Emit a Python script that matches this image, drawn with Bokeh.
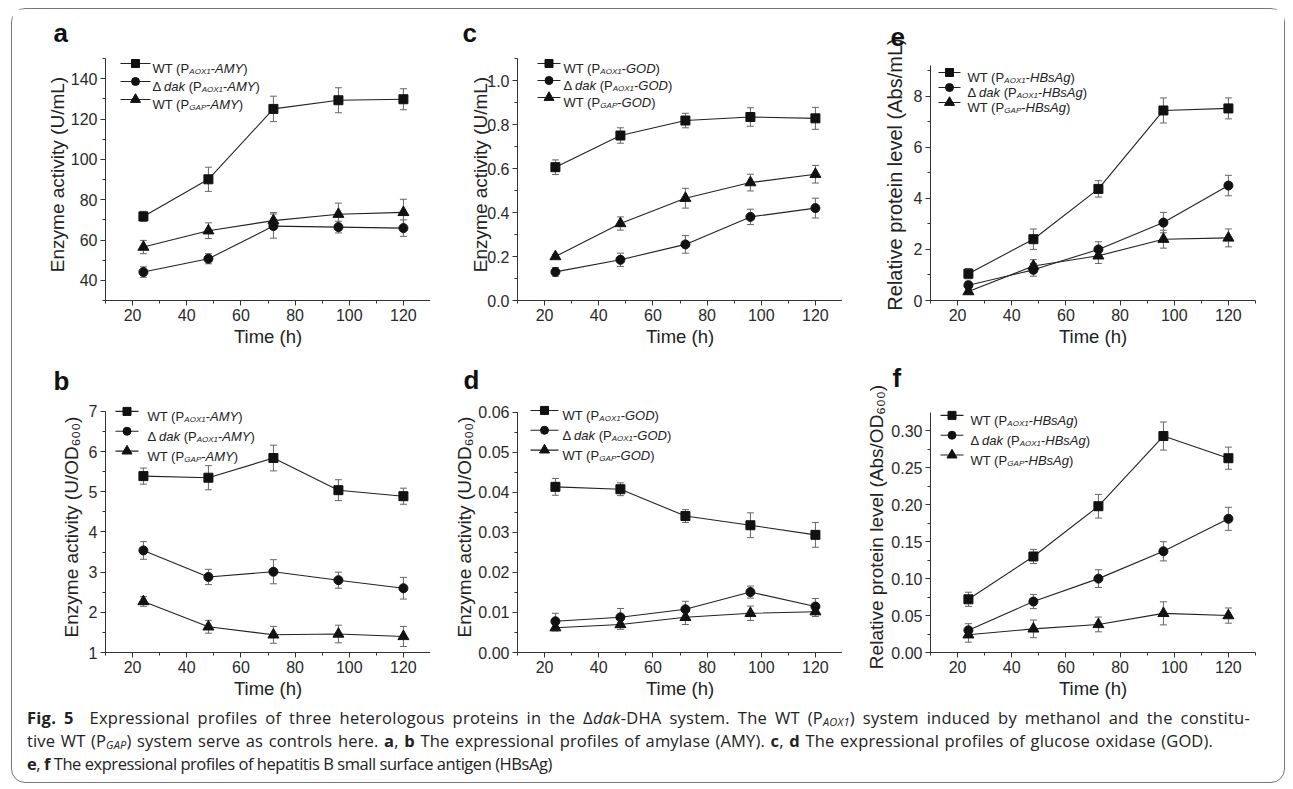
from bokeh.plotting import figure
from bokeh.models import (Range1d, SingleIntervalTicker, PrintfTickFormatter, Whisker, TeeHead,
                          ColumnDataSource, Label, Div, Spacer)
from bokeh.layouts import column, row
from bokeh.embed import file_html
from bokeh.resources import INLINE

FONT = "Liberation Sans"

time_h = [24, 48, 72, 96, 120]

# (a) amylase, U/mL
amy_ml_wt_aox1 = [71.7, 90.1, 125.0, 129.3, 129.8]
amy_ml_wt_aox1_err = [2.5, 6.0, 6.3, 6.2, 5.2]
amy_ml_dak_aox1 = [44.1, 50.7, 66.9, 66.4, 65.9]
amy_ml_dak_aox1_err = [2.6, 2.5, 6.0, 2.9, 4.1]
amy_ml_wt_gap = [56.5, 64.6, 69.6, 72.8, 73.7]
amy_ml_wt_gap_err = [3.3, 3.9, 4.0, 5.5, 6.5]

# (b) amylase, U/OD600
amy_od_wt_aox1 = [5.39, 5.35, 5.84, 5.04, 4.89]
amy_od_wt_aox1_err = [0.20, 0.30, 0.32, 0.26, 0.20]
amy_od_dak_aox1 = [3.54, 2.88, 3.01, 2.80, 2.60]
amy_od_dak_aox1_err = [0.22, 0.19, 0.30, 0.20, 0.27]
amy_od_wt_gap = [2.27, 1.64, 1.44, 1.46, 1.40]
amy_od_wt_gap_err = [0.12, 0.16, 0.21, 0.22, 0.25]

# (c) glucose oxidase, U/mL
god_ml_wt_aox1 = [0.606, 0.750, 0.818, 0.834, 0.828]
god_ml_wt_aox1_err = [0.033, 0.035, 0.033, 0.042, 0.050]
god_ml_dak_aox1 = [0.130, 0.185, 0.255, 0.380, 0.420]
god_ml_dak_aox1_err = [0.020, 0.030, 0.040, 0.035, 0.045]
god_ml_wt_gap = [0.200, 0.350, 0.465, 0.536, 0.574]
god_ml_wt_gap_err = [0.010, 0.030, 0.045, 0.038, 0.040]

# (d) glucose oxidase, U/OD600
god_od_wt_aox1 = [0.0414, 0.0408, 0.0341, 0.0318, 0.0294]
god_od_wt_aox1_err = [0.0021, 0.0016, 0.0016, 0.0031, 0.0031]
god_od_dak_aox1 = [0.0078, 0.0088, 0.0108, 0.0151, 0.0115]
god_od_dak_aox1_err = [0.0020, 0.0022, 0.0020, 0.0015, 0.0020]
god_od_wt_gap = [0.0062, 0.0070, 0.0088, 0.0098, 0.0102]
god_od_wt_gap_err = [0.0008, 0.0012, 0.0018, 0.0018, 0.0012]

# (e) HBsAg, Abs/mL
hbs_ml_wt_aox1 = [1.05, 2.40, 4.37, 7.44, 7.52]
hbs_ml_wt_aox1_err = [0.20, 0.40, 0.32, 0.49, 0.41]
hbs_ml_dak_aox1 = [0.60, 1.20, 2.00, 3.05, 4.50]
hbs_ml_dak_aox1_err = [0.15, 0.25, 0.30, 0.40, 0.40]
hbs_ml_wt_gap = [0.35, 1.35, 1.75, 2.40, 2.45]
hbs_ml_wt_gap_err = [0.10, 0.25, 0.30, 0.35, 0.35]

# (f) HBsAg, Abs/OD600
hbs_od_wt_aox1 = [0.072, 0.130, 0.198, 0.293, 0.263]
hbs_od_wt_aox1_err = [0.0096, 0.0096, 0.016, 0.019, 0.015]
hbs_od_dak_aox1 = [0.030, 0.069, 0.100, 0.137, 0.181]
hbs_od_dak_aox1_err = [0.009, 0.0096, 0.012, 0.013, 0.0156]
hbs_od_wt_gap = [0.024, 0.032, 0.038, 0.053, 0.050]
hbs_od_wt_gap_err = [0.010, 0.012, 0.010, 0.0156, 0.0103]

x_label = "Time (h)"
panel_letters = ["a", "b", "c", "d", "e", "f"]
x_start, x_end = 10, 130

# Arial / Liberation Sans advance widths (1/1000 em)
W = {' ': 278, '(': 333, ')': 333, '-': 333, 'Δ': 612, 'W': 944, 'T': 611, 'P': 667,
     'A': 667, 'O': 778, 'X': 667, '1': 556, 'M': 833, 'Y': 667, 'G': 778, 'D': 722,
     'H': 722, 'B': 667, 's': 500, 'g': 556, 'd': 556, 'a': 556, 'k': 500}


def tw(s, size):
    return sum(W.get(c, 556) for c in s) * size / 1000.0


FW = 325  # plot frame width in px


def make_panel(letter, series, gene, ylabel, ylab_size, y0, ytop, yint, fmt,
               w, h, mbl, mbr, mbt, mbb, ext, ystand, let_dx, let_st,
               leg_x, leg_gw, leg_r1, leg_sp, leg_tx):
    fh = h - mbt - mbb
    vpp = (ytop - y0) / (fh - ext)          # data units per px (y)
    yend = ytop + ext * vpp
    hpp = (x_end - x_start) / FW            # data units per px (x)

    p = figure(width=w, height=h, x_range=Range1d(x_start, x_end), y_range=Range1d(y0, yend),
               output_backend="svg", toolbar_location=None,
               min_border_left=mbl, min_border_right=mbr, min_border_top=mbt,
               min_border_bottom=mbb)
    p.outline_line_color = None
    p.grid.visible = False
    p.background_fill_color = "white"
    p.border_fill_color = "white"

    p.title.text = letter
    p.title.align = "left"
    p.title.offset = let_dx
    p.title.standoff = let_st
    p.title.text_font = FONT
    p.title.text_font_size = "26px"
    p.title.text_font_style = "bold"
    p.title.text_color = "#111111"

    p.xaxis.ticker = SingleIntervalTicker(interval=20, num_minor_ticks=2)
    p.yaxis.ticker = SingleIntervalTicker(interval=yint, num_minor_ticks=2)
    p.yaxis.formatter = PrintfTickFormatter(format=fmt)
    p.yaxis.bounds = (y0, ytop)
    p.xaxis.axis_label = x_label
    p.yaxis.axis_label = ylabel
    for ax in (p.xaxis[0], p.yaxis[0]):
        ax.axis_line_color = "#333333"
        ax.axis_line_width = 1
        ax.major_tick_line_color = "#333333"
        ax.minor_tick_line_color = "#333333"
        ax.major_tick_out = 5
        ax.major_tick_in = 0
        ax.minor_tick_out = 3
        ax.minor_tick_in = 0
        ax.major_label_text_font = FONT
        ax.major_label_text_font_size = "16px"
        ax.major_label_text_color = "#2a2a2a"
        ax.major_label_standoff = 3
        ax.axis_label_text_font = FONT
        ax.axis_label_text_font_style = "normal"
        ax.axis_label_text_color = "#222222"
    p.xaxis.axis_label_text_font_size = "18.5px"
    p.yaxis.axis_label_text_font_size = ylab_size
    p.xaxis.axis_label_standoff = 2
    p.yaxis.axis_label_standoff = ystand

    markers = ["square", "circle", "triangle"]
    msize = [9, 9, 11]
    lsize = [8, 8, 10]
    for i, ((vals, errs), mk, ms, ls) in enumerate(zip(series, markers, msize, lsize)):
        src = ColumnDataSource(dict(x=time_h, y=vals,
                                    lo=[v - e for v, e in zip(vals, errs)],
                                    up=[v + e for v, e in zip(vals, errs)]))
        wk = Whisker(source=src, base="x", lower="lo", upper="up",
                     line_color="#666666", line_width=1, level="underlay",
                     upper_head=TeeHead(size=7, line_color="#666666", line_width=1),
                     lower_head=TeeHead(size=7, line_color="#666666", line_width=1))
        p.add_layout(wk)
        p.line("x", "y", source=src, line_color="#222222", line_width=1.1)
        p.scatter("x", "y", source=src, marker=mk, size=ms,
                  fill_color="#111111", line_color="#111111")

        # legend key (line + marker), placed from layout offsets in px
        py = ext + leg_r1 + i * leg_sp
        ky = yend - py * vpp
        kx0 = x_start + leg_x * hpp
        kx1 = x_start + (leg_x + leg_gw) * hpp
        p.segment(x0=[kx0], y0=[ky], x1=[kx1], y1=[ky], line_color="#222222", line_width=1.1)
        p.scatter(x=[(kx0 + kx1) / 2], y=[ky], marker=mk, size=ls,
                  fill_color="#111111", line_color="#111111")

    rows = [
        [("WT (P", "normal", 13, 0), ("AOX1", "italic", 8, 3), ("-", "normal", 13, 0),
         (gene, "italic", 13, 0), (")", "normal", 13, 0)],
        [("Δ ", "normal", 13, 0), ("dak", "italic", 13, 0), (" (P", "normal", 13, 0),
         ("AOX1", "italic", 8, 3), ("-", "normal", 13, 0), (gene, "italic", 13, 0),
         (")", "normal", 13, 0)],
        [("WT (P", "normal", 13, 0), ("GAP", "italic", 8, 3), ("-", "normal", 13, 0),
         (gene, "italic", 13, 0), (")", "normal", 13, 0)],
    ]
    for i, pieces in enumerate(rows):
        rc = ext + leg_r1 + i * leg_sp
        cx = leg_tx
        for txt, style, size, drop in pieces:
            lead = len(txt) - len(txt.lstrip(" "))
            shown = txt.strip(" ")
            p.add_layout(Label(x=x_start, y=yend,
                               x_offset=cx + tw(" " * lead, size),
                               y_offset=-(rc + 4.6 + drop),
                               text=shown, text_font=FONT, text_font_size=f"{size}px",
                               text_font_style=style, text_color="#222222",
                               text_baseline="alphabetic", text_align="left"))
            cx += tw(txt, size)
    return p


od_ml = "Enzyme activity (U/mL)"
od_od = "Enzyme activity (U/OD\u2086\u2080\u2080)"
pa = make_panel(panel_letters[0],
                [(amy_ml_wt_aox1, amy_ml_wt_aox1_err), (amy_ml_dak_aox1, amy_ml_dak_aox1_err),
                 (amy_ml_wt_gap, amy_ml_wt_gap_err)], "AMY", od_ml, "19px",
                30, 150, 20, "%d", 418, 343, 93, 0, 39, 52, 10, 0, -52, 1,
                15, 30, 5, 18, 47)
pc = make_panel(panel_letters[2],
                [(god_ml_wt_aox1, god_ml_wt_aox1_err), (god_ml_dak_aox1, god_ml_dak_aox1_err),
                 (god_ml_wt_gap, god_ml_wt_gap_err)], "GOD", od_ml, "19px",
                0, 1.1, 0.2, "%.1f", 412, 343, 87, 0, 39, 52, 10, -7, -55, 1,
                20, 23, 5, 17, 46)
pe = make_panel(panel_letters[4],
                [(hbs_ml_wt_aox1, hbs_ml_wt_aox1_err), (hbs_ml_dak_aox1, hbs_ml_dak_aox1_err),
                 (hbs_ml_wt_gap, hbs_ml_wt_gap_err)], "HBsAg", "Relative protein level (Abs/mL)",
                "20px", 0, 9.2, 2, "%d", 442, 343, 88, 29, 39, 52, 17, 5, -40, 5,
                8, 22, 7, 15, 37)
pb = make_panel(panel_letters[1],
                [(amy_od_wt_aox1, amy_od_wt_aox1_err), (amy_od_dak_aox1, amy_od_dak_aox1_err),
                 (amy_od_wt_gap, amy_od_wt_gap_err)], "AMY", od_od, "19px",
                1, 7, 1, "%d", 418, 354, 93, 0, 47, 54, 10, 4, -52, 11,
                10, 23, 0, 20, 42)
pd_ = make_panel(panel_letters[3],
                 [(god_od_wt_aox1, god_od_wt_aox1_err), (god_od_dak_aox1, god_od_dak_aox1_err),
                  (god_od_wt_gap, god_od_wt_gap_err)], "GOD", od_od, "19px",
                 0, 0.06, 0.01, "%.2f", 412, 354, 87, 0, 47, 54, 11, 0, -54, 13,
                 13, 28, -2, 20, 45)
pf = make_panel(panel_letters[5],
                [(hbs_od_wt_aox1, hbs_od_wt_aox1_err), (hbs_od_dak_aox1, hbs_od_dak_aox1_err),
                 (hbs_od_wt_gap, hbs_od_wt_gap_err)], "HBsAg",
                "Relative protein level (Abs/OD\u2086\u2080\u2080)", "19px",
                0, 0.30 + 0.025, 0.05, "%.2f", 442, 354, 88, 29, 47, 54, 11, 1, -38, 17,
                10, 23, 3, 20, 40)

SUB = 'style="font-size:11px;position:relative;top:2px;font-style:italic;line-height:0"'
caption_html = (
    '<div style="font-family:\'Open Sans\';font-size:16.5px;line-height:23px;color:#222;'
    'padding-left:15px;">'
    '<div style="width:1223px;text-align:justify;text-align-last:justify;letter-spacing:0.25px;">'
    '<b>Fig. 5</b>&nbsp; Expressional profiles of three heterologous proteins in the '
    '\u0394<i>dak</i>-DHA system. The WT (P<span ' + SUB + '>AOX1</span>) system '
    'induced by methanol and the constitu-</div>'
    '<div style="width:1186px;text-align:justify;text-align-last:justify;letter-spacing:0.15px;">'
    'tive WT (P<span ' + SUB + '>GAP</span>) system serve as controls here. '
    '<b>a</b>, <b>b</b> The expressional profiles of amylase (AMY). <b>c</b>, <b>d</b> The '
    'expressional profiles of glucose oxidase (GOD).</div>'
    '<div style="white-space:nowrap;letter-spacing:-0.45px;">'
    '<b>e</b>, <b>f</b> The expressional profiles of hepatitis B small surface antigen (HBsAg)'
    '</div></div>'
)
caption = Div(text=caption_html, width=1272, height=76, margin=0)

inner = column(row(pa, pc, pe), row(pb, pd_, pf), caption,
               styles={"border": "1px solid #777777", "border-radius": "14px",
                       "background-color": "white"})
layout = column(Spacer(height=8), row(Spacer(width=11), inner))

open("out.html", "w").write(file_html(layout, INLINE))
